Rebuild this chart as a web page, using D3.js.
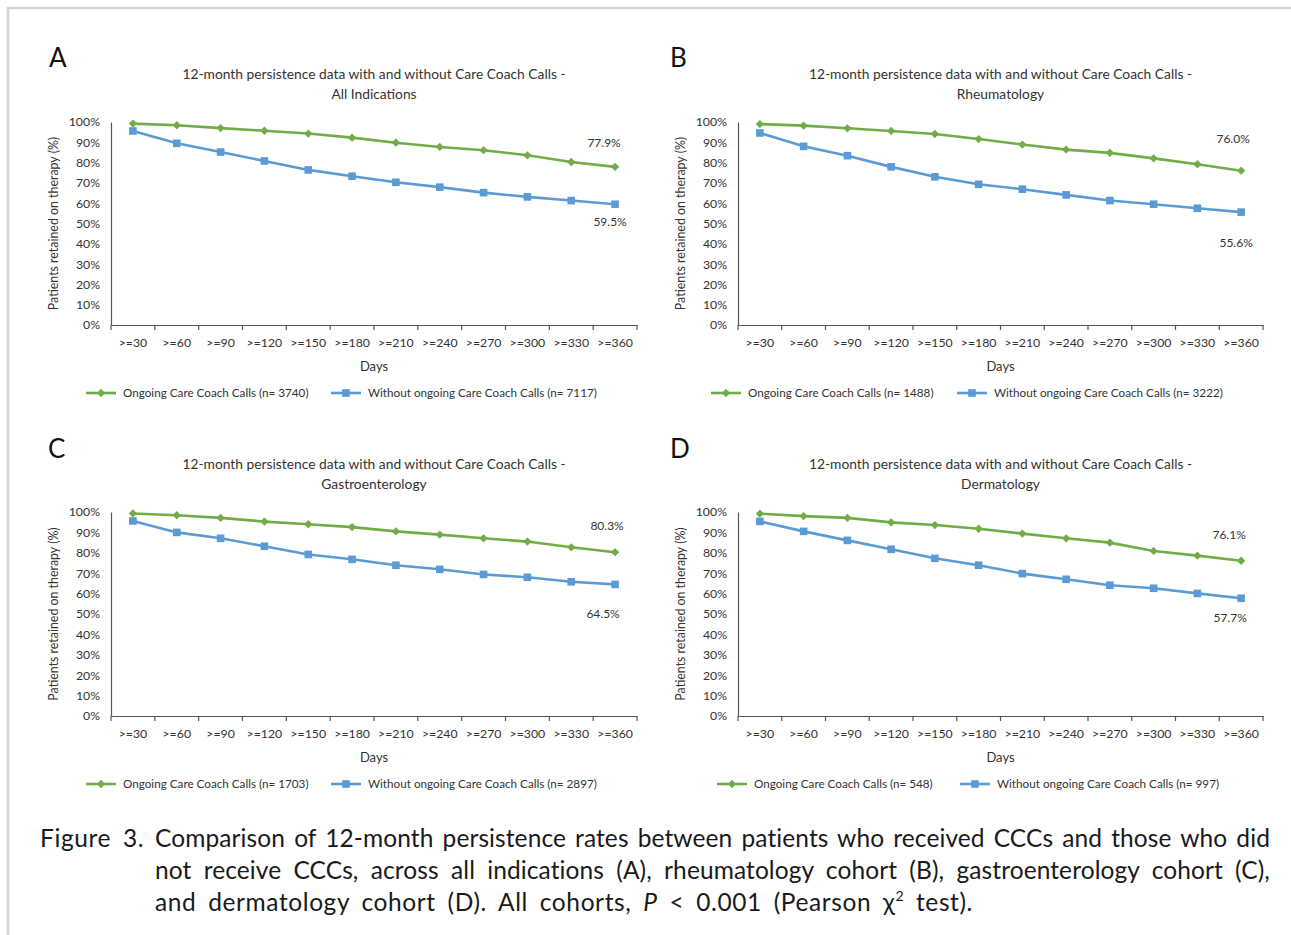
<!DOCTYPE html>
<html>
<head>
<meta charset="utf-8">
<script src="https://cdn.jsdelivr.net/npm/d3@7"></script>
<style>
  body { margin: 0; background: #fff; }
  #wrap { position: relative; width: 1291px; height: 935px; overflow: hidden; }
  svg { position: absolute; left: 0; top: 0; }
  .cap { position: absolute; font-family: Lato, sans-serif; font-size: 24.5px; line-height: 30px;
         letter-spacing: 0.6px; word-spacing: 5px; color: #1a1a1a; white-space: nowrap; }
  .just { text-align: justify; text-align-last: justify; letter-spacing: 0.1px; word-spacing: 0; }
</style>
</head>
<body>
<div id="wrap"></div>
<script>
// categories + series values
const days = [">=30", ">=60", ">=90", ">=120", ">=150", ">=180", ">=210", ">=240", ">=270", ">=300", ">=330", ">=360"];
const yTicks = [0, 10, 20, 30, 40, 50, 60, 70, 80, 90, 100];

const panelLetters = ["A", "B", "C", "D"];
const panelSubtitles = ["All Indications", "Rheumatology", "Gastroenterology", "Dermatology"];
const withN = [3740, 1488, 1703, 548];
const withoutN = [7117, 3222, 2897, 997];

const withCalls = [
  [99.2, 98.4, 97.0, 95.7, 94.3, 92.3, 89.8, 87.7, 86.1, 83.6, 80.3, 77.9],
  [99.0, 98.2, 96.9, 95.6, 94.1, 91.6, 88.9, 86.4, 84.8, 82.1, 79.2, 76.0],
  [99.3, 98.4, 97.1, 95.3, 94.0, 92.6, 90.5, 88.9, 87.1, 85.5, 82.7, 80.3],
  [99.2, 98.0, 97.1, 94.9, 93.6, 91.8, 89.4, 87.1, 85.0, 80.9, 78.6, 76.1]
];
const withoutCalls = [
  [95.6, 89.5, 85.2, 80.8, 76.4, 73.3, 70.3, 67.9, 65.2, 63.1, 61.3, 59.5],
  [94.6, 88.0, 83.4, 77.9, 73.0, 69.3, 66.9, 64.1, 61.3, 59.5, 57.5, 55.6],
  [95.6, 90.0, 87.1, 83.2, 79.2, 76.8, 73.9, 71.9, 69.4, 68.0, 65.8, 64.5],
  [95.4, 90.5, 86.1, 81.7, 77.3, 73.9, 69.8, 67.0, 64.1, 62.6, 60.1, 57.7]
];

// layout (pixels)
const panels = [
  { left: 111, right: 637, top: 122, bottom: 325, letterX: 49, letterY: 67, legX: 86, legX2: 331, gLab: [-11, -24], bLab: [-5, 18] },
  { left: 738, right: 1263, top: 122, bottom: 325, letterX: 670, letterY: 67, legX: 711, legX2: 957, gLab: [-8, -32], bLab: [-5, 31] },
  { left: 111, right: 637, top: 512, bottom: 716, letterX: 48, letterY: 458, legX: 86, legX2: 331, gLab: [-8, -26], bLab: [-12, 29] },
  { left: 738, right: 1263, top: 512, bottom: 716, letterX: 670, letterY: 458, legX: 717, legX2: 960, gLab: [-12, -26], bLab: [-11, 20] }
];

const green = "#70ad47", blue = "#5b9bd5", txt = "#333";
const font = "Lato, sans-serif";

const svg = d3.select("#wrap").append("svg")
    .attr("width", 1291)
    .attr("height", 935);

svg.append("rect")
    .attr("width", 1291).attr("height", 935)
    .attr("fill", "#fff");

// light frame, only left and top edges show
svg.append("path")
    .attr("d", "M8,935 L8,8 L1291,8")
    .attr("fill", "none")
    .attr("stroke", "#d4d4d4")
    .attr("stroke-width", 2.5);

const diamond = d3.symbol().type(d3.symbolDiamond2).size(44);
const square = d3.symbol().type(d3.symbolSquare).size(58);

panels.forEach((p, i) => {
    const g = svg.append("g").attr("font-family", font).attr("fill", txt);

    const x = d3.scaleBand().domain(days).range([p.left, p.right]);
    const y = d3.scaleLinear().domain([0, 100]).range([p.bottom, p.top]);
    const cx = d => x(d) + x.bandwidth() / 2;
    const mid = (p.left + p.right) / 2;

    g.append("text")
        .attr("x", p.letterX).attr("y", p.letterY)
        .attr("font-size", 26)
        .attr("fill", "#111")
        .text(panelLetters[i]);

    g.append("text")
        .attr("x", mid).attr("y", p.top - 43)
        .attr("text-anchor", "middle").attr("font-size", 13.8)
        .text("12-month persistence data with and without Care Coach Calls -");
    g.append("text")
        .attr("x", mid).attr("y", p.top - 23)
        .attr("text-anchor", "middle").attr("font-size", 13.8)
        .text(panelSubtitles[i]);

    // y axis
    const ya = g.append("g")
        .attr("transform", `translate(${p.left},0)`)
        .call(d3.axisLeft(y).tickValues(yTicks).tickSize(0).tickPadding(11).tickFormat(d => d + "%"));
    ya.select(".domain").attr("stroke", "#555").attr("stroke-width", 1.2);
    ya.selectAll("text").attr("font-family", font).attr("font-size", 12.3).attr("fill", txt);

    // x axis, ticks sit between categories
    const xa = g.append("g")
        .attr("transform", `translate(0,${p.bottom})`)
        .call(d3.axisBottom(x).tickSize(0).tickPadding(13));
    xa.select(".domain").attr("stroke", "#555").attr("stroke-width", 1.2);
    xa.selectAll("text").attr("font-family", font).attr("font-size", 12.3).attr("fill", txt);
    xa.selectAll(".sep")
        .data(days.concat(["end"]))
        .enter().append("line")
        .attr("x1", (d, k) => k < days.length ? x(d) : p.right)
        .attr("x2", (d, k) => k < days.length ? x(d) : p.right)
        .attr("y1", 0).attr("y2", 5)
        .attr("stroke", "#555").attr("stroke-width", 1.2);

    g.append("text")
        .attr("x", mid).attr("y", p.bottom + 46)
        .attr("text-anchor", "middle").attr("font-size", 13)
        .text("Days");

    g.append("text")
        .attr("transform", `translate(${p.left - 53},${(p.top + p.bottom) / 2}) rotate(-90)`)
        .attr("text-anchor", "middle").attr("font-size", 12.4)
        .text("Patients retained on therapy (%)");

    const line = d3.line().x((d, k) => cx(days[k])).y(d => y(d));

    [[withoutCalls[i], blue, square], [withCalls[i], green, diamond]].forEach(([vals, col, sym]) => {
        g.append("path")
            .datum(vals)
            .attr("d", line)
            .attr("fill", "none")
            .attr("stroke", col)
            .attr("stroke-width", 2.6);
        g.selectAll(null)
            .data(vals)
            .enter().append("path")
            .attr("d", sym)
            .attr("transform", (d, k) => `translate(${cx(days[k])},${y(d)})`)
            .attr("fill", col);
    });

    // end-point value labels
    const last = days.length - 1;
    g.append("text")
        .attr("x", cx(days[last]) + p.gLab[0]).attr("y", y(withCalls[i][last]) + p.gLab[1])
        .attr("text-anchor", "middle").attr("dy", "0.35em").attr("font-size", 12)
        .text(withCalls[i][last].toFixed(1) + "%");
    g.append("text")
        .attr("x", cx(days[last]) + p.bLab[0]).attr("y", y(withoutCalls[i][last]) + p.bLab[1])
        .attr("text-anchor", "middle").attr("dy", "0.35em").attr("font-size", 12)
        .text(withoutCalls[i][last].toFixed(1) + "%");

    // legend
    const ly = p.bottom + 68;
    const leg = [
        [p.legX, green, diamond, `Ongoing Care Coach Calls (n= ${withN[i]})`],
        [p.legX2, blue, square, `Without ongoing Care Coach Calls (n= ${withoutN[i]})`]
    ];
    leg.forEach(([lx, col, sym, label]) => {
        g.append("line")
            .attr("x1", lx).attr("x2", lx + 30)
            .attr("y1", ly).attr("y2", ly)
            .attr("stroke", col).attr("stroke-width", 2.6);
        g.append("path")
            .attr("d", sym)
            .attr("transform", `translate(${lx + 15},${ly})`)
            .attr("fill", col);
        g.append("text")
            .attr("x", lx + 37).attr("y", ly)
            .attr("dy", "0.35em").attr("font-size", 11.7)
            .text(label);
    });
});

// caption
const wrap = d3.select("#wrap");
wrap.append("div").attr("class", "cap")
    .style("left", "40px").style("top", "823px")
    .text("Figure 3.");
const capLines = [
    "Comparison of 12-month persistence rates between patients who received CCCs and those who did",
    "not receive CCCs, across all indications (A), rheumatology cohort (B), gastroenterology cohort (C),"
];
capLines.forEach((t, k) => {
    wrap.append("div").attr("class", "cap just")
        .style("left", "155px").style("top", (823 + k * 32) + "px")
        .style("width", "1115px")
        .text(t);
});
wrap.append("div").attr("class", "cap")
    .style("left", "155px").style("top", (823 + 64) + "px")
    .html("and dermatology cohort (D). All cohorts, <i>P</i> &lt; 0.001 (Pearson &chi;<sup style='font-size:14px;line-height:0;vertical-align:10px'>2</sup> test).");
</script>
</body>
</html>
